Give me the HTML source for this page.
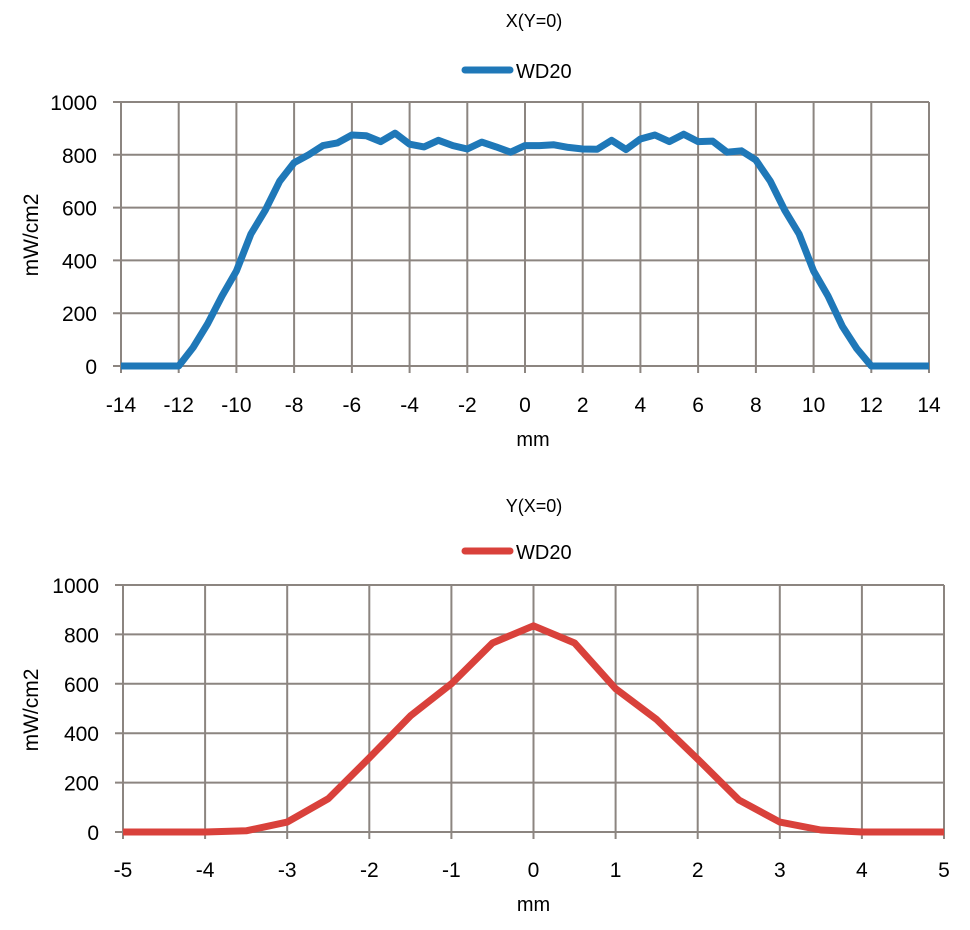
<!DOCTYPE html>
<html><head><meta charset="utf-8"><style>
body{margin:0;background:#fff;}
svg{display:block;font-family:"Liberation Sans",sans-serif;}
</style></head><body>
<svg width="970" height="930" viewBox="0 0 970 930" xmlns="http://www.w3.org/2000/svg">
<g fill="#000">
<text x="534" y="27" font-size="18" text-anchor="middle">X(Y=0)</text>
<line x1="465" y1="70" x2="510" y2="70" stroke="#1f78b8" stroke-width="7" stroke-linecap="round"/>
<text x="516" y="78" font-size="20">WD20</text>
<text x="534" y="512" font-size="18" text-anchor="middle">Y(X=0)</text>
<line x1="465" y1="551" x2="510" y2="551" stroke="#d9413b" stroke-width="7" stroke-linecap="round"/>
<text x="516" y="559" font-size="20">WD20</text>
</g>

<!-- TOP CHART -->
<g stroke="#8c8580" stroke-width="2" fill="none">
<path d="M121 102V373M178.7 102V373M236.4 102V373M294.1 102V373M351.9 102V373M409.6 102V373M467.3 102V373M525 102V373M582.7 102V373M640.4 102V373M698.1 102V373M755.9 102V373M813.6 102V373M871.3 102V373M929 102V373"/>
<path d="M113 366H929M113 313.2H929M113 260.4H929M113 207.6H929M113 154.8H929M113 102H929"/>
</g>
<g font-size="21" text-anchor="middle">
<text x="121" y="412">-14</text><text x="178.7" y="412">-12</text><text x="236.4" y="412">-10</text><text x="294.1" y="412">-8</text><text x="351.9" y="412">-6</text><text x="409.6" y="412">-4</text><text x="467.3" y="412">-2</text><text x="525" y="412">0</text><text x="582.7" y="412">2</text><text x="640.4" y="412">4</text><text x="698.1" y="412">6</text><text x="755.9" y="412">8</text><text x="813.6" y="412">10</text><text x="871.3" y="412">12</text><text x="929" y="412">14</text>
<text x="533" y="446" font-size="20">mm</text>
<text transform="translate(38,235) rotate(-90)">mW/cm2</text>
</g>
<g font-size="21" text-anchor="end">
<text x="97" y="374">0</text><text x="97" y="321.2">200</text><text x="97" y="268.4">400</text><text x="97" y="215.6">600</text><text x="97" y="162.8">800</text><text x="97" y="110">1000</text>
</g>
<polyline fill="none" stroke="#1f78b8" stroke-width="7" stroke-linejoin="round" points="121,366 178.7,366 193.1,347.5 207.6,323.8 222,296 236.4,271 250.9,234 265.3,210.2 279.7,181.2 294.1,162.7 308.6,154.8 323,145.6 337.4,142.9 351.9,135 366.3,135.8 380.7,141.6 395.1,133.2 409.6,144.2 424,146.9 438.4,140.3 452.9,145.6 467.3,149 481.7,142.1 496.1,146.9 510.6,152.2 525,145.6 539.4,145.6 553.9,144.8 568.3,147.4 582.7,149 597.1,149.3 611.6,140.3 626,149.5 640.4,139 654.9,135 669.3,141.6 683.7,134.2 698.1,141.6 712.6,141.1 727,152.2 741.4,150.8 755.9,160.1 770.3,181.2 784.7,210.2 799.1,234 813.6,271 828,296 842.4,326.4 856.9,348.8 871.3,366 929,366"/>

<!-- BOTTOM CHART -->
<g stroke="#8c8580" stroke-width="2" fill="none">
<path d="M123 585V839M205.1 585V839M287.2 585V839M369.3 585V839M451.4 585V839M533.5 585V839M615.6 585V839M697.7 585V839M779.8 585V839M861.9 585V839M944 585V839"/>
<path d="M115 832H944M115 782.6H944M115 733.2H944M115 683.8H944M115 634.4H944M115 585H944"/>
</g>
<g font-size="21" text-anchor="middle">
<text x="123" y="877">-5</text><text x="205.1" y="877">-4</text><text x="287.2" y="877">-3</text><text x="369.3" y="877">-2</text><text x="451.4" y="877">-1</text><text x="533.5" y="877">0</text><text x="615.6" y="877">1</text><text x="697.7" y="877">2</text><text x="779.8" y="877">3</text><text x="861.9" y="877">4</text><text x="944" y="877">5</text>
<text x="533.5" y="911" font-size="20">mm</text>
<text transform="translate(38,710) rotate(-90)">mW/cm2</text>
</g>
<g font-size="21" text-anchor="end">
<text x="99" y="840">0</text><text x="99" y="790.6">200</text><text x="99" y="741.2">400</text><text x="99" y="691.8">600</text><text x="99" y="642.4">800</text><text x="99" y="593">1000</text>
</g>
<polyline fill="none" stroke="#d9413b" stroke-width="7" stroke-linejoin="round" points="123,832 205.1,832 246.2,830.8 287.2,822.1 328.3,798.7 369.3,757.9 410.4,715.9 451.4,683.8 492.5,643 533.5,625.8 574.6,643 615.6,688.7 656.7,719.6 697.7,759.1 738.8,799.9 779.8,822.1 820.9,830 861.9,832 944,832"/>
</svg>
</body></html>
